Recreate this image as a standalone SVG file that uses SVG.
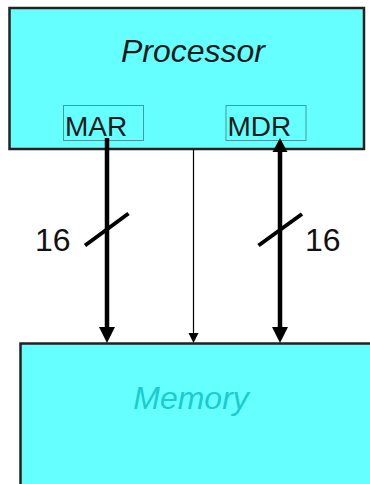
<svg xmlns="http://www.w3.org/2000/svg" width="370" height="484" viewBox="0 0 370 484">
<style>
.box{fill:#66FFFF;stroke:#222;stroke-width:2.5}
.reg{fill:#66FFFF;stroke:#3f9c9c;stroke-width:1}
.t{font-family:"Liberation Sans",Arial,sans-serif}
.big{font-size:32px;font-style:italic}
.regt{font-size:28px;fill:#1a1a1a}
.num{font-size:32px;fill:#111}
.thick{stroke:#000;stroke-width:4.5;fill:none}
.thin{stroke:#000;stroke-width:1.2;fill:none}
.slash{stroke:#000;stroke-width:4;fill:none}
.head{fill:#000}
</style>
<rect width="370" height="484" fill="#fff"/>
<g id="processor">
<rect class="box" x="9.5" y="8" width="354.5" height="141"/>
<text class="t big" x="193" y="62" text-anchor="middle" fill="#1a1a1a">Processor</text>
</g>
<g id="mar">
<rect class="reg" x="63.5" y="105.5" width="80" height="35"/>
<text class="t regt" x="65" y="136">MAR</text>
</g>
<g id="mdr">
<rect class="reg" x="226" y="105.5" width="80" height="35"/>
<text class="t regt" x="227.5" y="136">MDR</text>
</g>
<g id="memory">
<rect class="box" x="20.5" y="343.5" width="360" height="150"/>
<text class="t big" x="191" y="408.5" text-anchor="middle" fill="#1ccccc">Memory</text>
</g>
<g id="connectors">
<line class="thick" x1="107" y1="138" x2="107" y2="328"/>
<polygon class="head" points="99,327 115,327 107,343"/>
<line class="slash" x1="85" y1="245.5" x2="128.5" y2="213.5"/>
<text class="t num" x="35" y="251">16</text>
<line class="thin" x1="193.5" y1="149" x2="193.5" y2="334"/>
<polygon class="head" points="188.5,333 198.5,333 193.5,343"/>
<line class="thick" x1="280" y1="151" x2="280" y2="328"/>
<polygon class="head" points="280,138 272.5,152 287.5,152"/>
<polygon class="head" points="272,327 288,327 280,343"/>
<line class="slash" x1="258.5" y1="245.5" x2="302" y2="214"/>
<text class="t num" x="305" y="251">16</text>
</g>
</svg>
